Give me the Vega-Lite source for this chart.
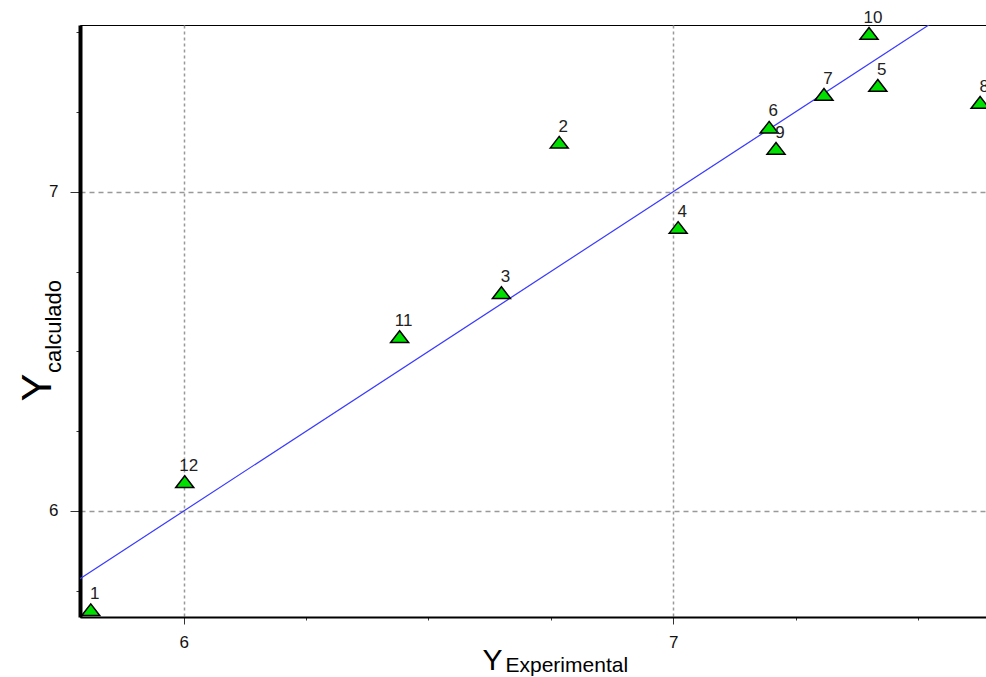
{
  "$schema": "https://vega.github.io/schema/vega-lite/v6.json",
  "width": 906,
  "height": 592,
  "autosize": "none",
  "padding": {"left": 80, "top": 25, "right": 0, "bottom": 60},
  "background": "white",
  "config": {
    "view": {"stroke": "black", "strokeWidth": 1},
    "font": "Liberation Sans"
  },
  "datasets": {
    "pts": [
      {"xe": 5.810, "yc": 5.690, "label": "1"},
      {"xe": 6.767, "yc": 7.154, "label": "2"},
      {"xe": 6.649, "yc": 6.683, "label": "3"},
      {"xe": 7.010, "yc": 6.887, "label": "4"},
      {"xe": 7.418, "yc": 7.332, "label": "5"},
      {"xe": 7.196, "yc": 7.201, "label": "6"},
      {"xe": 7.308, "yc": 7.304, "label": "7"},
      {"xe": 7.627, "yc": 7.279, "label": "8"},
      {"xe": 7.210, "yc": 7.135, "label": "9"},
      {"xe": 7.400, "yc": 7.495, "label": "10"},
      {"xe": 6.441, "yc": 6.545, "label": "11"},
      {"xe": 6.002, "yc": 6.091, "label": "12"}
    ],
    "fit": [{"xe": 5.788, "yc": 5.788}, {"xe": 7.639, "yc": 7.639}]
  },
  "resolve": {"axis": {"x": "independent", "y": "independent"}},
  "layer": [
    {
      "data": {"name": "fit"},
      "mark": {"type": "line", "color": "#3a3aff", "strokeWidth": 1.2, "clip": true},
      "encoding": {
        "x": {
          "field": "xe", "type": "quantitative",
          "scale": {"domain": [5.788, 7.639], "nice": false, "zero": false},
          "axis": {
            "orient": "bottom",
            "values": [6, 6.25, 6.5, 6.75, 7, 7.25, 7.5],
            "format": ".0f",
            "labelExpr": "datum.value === 6 || datum.value === 7 ? datum.label : ''",
            "labelFont": "Liberation Sans", "labelFontSize": 17, "labelColor": "#111",
            "labelPadding": 10,
            "domainColor": "black", "domainWidth": 2,
            "tickColor": "#333",
            "tickSize": {"condition": {"test": "datum.value === 6 || datum.value === 7", "value": 7}, "value": 3},
            "grid": true, "gridColor": "#999", "gridDash": [3, 3], "gridWidth": 1.5,
            "gridOpacity": {"condition": {"test": "datum.value === 6 || datum.value === 7", "value": 1}, "value": 0},
            "title": "Y", "titleFont": "Liberation Sans", "titleFontSize": 30, "titleFontWeight": "normal",
            "titleColor": "black", "titleAlign": "center", "titleBaseline": "alphabetic",
            "titleX": 412, "titleY": 52
          }
        },
        "y": {
          "field": "yc", "type": "quantitative",
          "scale": {"domain": [5.668, 7.522], "nice": false, "zero": false},
          "axis": {
            "orient": "left",
            "values": [5.75, 6, 6.25, 6.5, 6.75, 7, 7.25, 7.5],
            "format": ".0f",
            "labelExpr": "datum.value === 6 || datum.value === 7 ? datum.label : ''",
            "labelFont": "Liberation Sans", "labelFontSize": 17, "labelColor": "#111",
            "labelPadding": 12,
            "domainColor": "black", "domainWidth": 4,
            "tickColor": "#333",
            "tickSize": {"condition": {"test": "datum.value === 6 || datum.value === 7", "value": 10}, "value": 4},
            "grid": true, "gridColor": "#999", "gridDash": [5, 4], "gridWidth": 1.5,
            "gridOpacity": {"condition": {"test": "datum.value === 6 || datum.value === 7", "value": 1}, "value": 0},
            "title": "Y", "titleFont": "Liberation Sans", "titleFontSize": 42, "titleFontWeight": "normal",
            "titleColor": "black", "titleAngle": 270, "titleAlign": "center", "titleBaseline": "alphabetic",
            "titleX": -30, "titleY": 362
          }
        }
      }
    },
    {
      "data": {"name": "pts"},
      "mark": {"type": "point", "shape": "M-1,0.62L0,-0.68L1,0.62Z", "filled": true, "fill": "#00e000", "stroke": "black", "strokeWidth": 1.5, "opacity": 1, "size": 324},
      "encoding": {
        "x": {
          "field": "xe", "type": "quantitative",
          "axis": {
            "orient": "bottom", "labels": false, "ticks": false, "domain": false, "grid": false,
            "title": "Experimental", "titleFont": "Liberation Sans", "titleFontSize": 21, "titleFontWeight": "normal",
            "titleColor": "black", "titleAlign": "left", "titleBaseline": "alphabetic",
            "titleX": 425, "titleY": 54
          }
        },
        "y": {
          "field": "yc", "type": "quantitative",
          "axis": {
            "orient": "left", "labels": false, "ticks": false, "domain": false, "grid": false,
            "title": "calculado", "titleFont": "Liberation Sans", "titleFontSize": 22, "titleFontWeight": "normal",
            "titleColor": "black", "titleAngle": 270, "titleAlign": "center", "titleBaseline": "alphabetic",
            "titleX": -20, "titleY": 301
          }
        }
      }
    },
    {
      "data": {"name": "pts"},
      "mark": {"type": "text", "dx": 4, "dy": -16, "align": "center", "baseline": "middle", "fontSize": 17, "font": "Liberation Sans", "color": "#222"},
      "encoding": {
        "x": {"field": "xe", "type": "quantitative", "axis": null},
        "y": {"field": "yc", "type": "quantitative", "axis": null},
        "text": {"field": "label"}
      }
    }
  ]
}
